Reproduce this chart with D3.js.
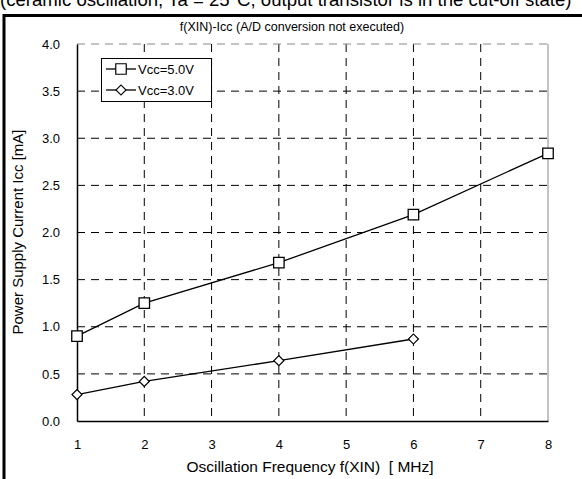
<!DOCTYPE html>
<html>
<head>
<script src="https://d3js.org/d3.v7.min.js"></script>
<style>
  body { margin: 0; background: #fff; }
  text { font-family: "Liberation Sans", Arial, sans-serif; fill: #000; }
</style>
</head>
<body>
<svg class="chart" width="582" height="479"></svg>
<script>
// data
const freqTicks = [1, 2, 3, 4, 5, 6, 7, 8];
const iccTicks = [0, 0.5, 1.0, 1.5, 2.0, 2.5, 3.0, 3.5, 4.0];
const freq5 = [1, 2, 4, 6, 8];
const icc5 = [0.90, 1.25, 1.68, 2.19, 2.84];
const freq3 = [1, 2, 4, 6];
const icc3 = [0.28, 0.42, 0.64, 0.87];
const seriesNames = ["Vcc=5.0V", "Vcc=3.0V"];

let pLeft = 77, pRight = 548, pTop = 44, pBottom = 421;
let svg = d3.select(".chart");

let xs = d3.scaleLinear().domain([1, 8]).range([pLeft, pRight]);
let ys = d3.scaleLinear().domain([0, 4]).range([pBottom, pTop]);

// header line, cut off at the top of the picture
svg.append("text").attr("x", 0).attr("y", 6)
  .style("font-size", "18.6px")
  .text("(ceramic oscillation, Ta = 25°C, output transistor is in the cut-off state)");

// frame
svg.append("line").attr("x1", 3).attr("x2", 582).attr("y1", 15.5).attr("y2", 15.5)
  .attr("stroke", "#000").attr("stroke-width", 3);
svg.append("line").attr("x1", 4).attr("x2", 4).attr("y1", 14).attr("y2", 479)
  .attr("stroke", "#000").attr("stroke-width", 3);

svg.append("text").attr("x", 292).attr("y", 31).attr("text-anchor", "middle")
  .style("font-size", "12.5px")
  .text("f(XIN)-Icc (A/D conversion not executed)");

// grid lines
svg.append("g").selectAll("line")
  .data(freqTicks.slice(1, -1))
  .join("line")
  .attr("x1", d => xs(d)).attr("x2", d => xs(d))
  .attr("y1", pTop).attr("y2", pBottom)
  .attr("stroke", "#000").attr("stroke-dasharray", "8,6");
svg.append("g").selectAll("line")
  .data(iccTicks.slice(1, -1))
  .join("line")
  .attr("x1", pLeft).attr("x2", pRight)
  .attr("y1", d => ys(d)).attr("y2", d => ys(d))
  .attr("stroke", "#000").attr("stroke-dasharray", "8,6");

// top and right edges (grey)
svg.append("line").attr("x1", pLeft).attr("x2", pRight).attr("y1", pTop).attr("y2", pTop)
  .attr("stroke", "#888").attr("stroke-dasharray", "8,6");
svg.append("line").attr("x1", pRight).attr("x2", pRight).attr("y1", pTop).attr("y2", pBottom)
  .attr("stroke", "#888");

// axes
let x_axis = d3.axisBottom(xs).tickValues(freqTicks).tickSize(0).tickPadding(19)
  .tickFormat(d3.format("d"));
let y_axis = d3.axisLeft(ys).tickValues(iccTicks).tickSize(0).tickPadding(17)
  .tickFormat(d3.format(".1f"));

let gx = svg.append("g").attr("transform", "translate(0," + pBottom + ")").call(x_axis);
let gy = svg.append("g").attr("transform", "translate(" + pLeft + ",0)").call(y_axis);
gx.select(".domain").attr("stroke", "#000").attr("stroke-width", 1.5);
gy.select(".domain").attr("stroke", "#000").attr("stroke-width", 1.5);
svg.selectAll(".tick text").style("font-size", "13px").style("font-family", "Liberation Sans, Arial, sans-serif");

// axis titles
svg.append("text").attr("x", 310).attr("y", 472).attr("text-anchor", "middle")
  .style("font-size", "15.5px")
  .text("Oscillation Frequency f(XIN)\u00a0\u00a0[ MHz]");
svg.append("text").attr("transform", "translate(23,232) rotate(-90)")
  .attr("text-anchor", "middle").style("font-size", "15px")
  .text("Power Supply Current Icc [mA]");

// lines
const line = d3.line().x(d => xs(d[0])).y(d => ys(d[1]));
let pts5 = freq5.map((f, i) => [f, icc5[i]]);
let pts3 = freq3.map((f, i) => [f, icc3[i]]);

svg.append("path").datum(pts5).attr("d", line)
  .attr("fill", "none").attr("stroke", "#000").attr("stroke-width", 1.3);
svg.append("path").datum(pts3).attr("d", line)
  .attr("fill", "none").attr("stroke", "#000").attr("stroke-width", 1.3);

const sq = d3.symbol().type(d3.symbolSquare).size(110);
const dia = d3.symbol().type(d3.symbolSquare).size(50); // rotated 45deg below

svg.append("g").selectAll("path").data(pts5).join("path")
  .attr("d", sq).attr("transform", d => "translate(" + xs(d[0]) + "," + ys(d[1]) + ")")
  .attr("fill", "#fff").attr("stroke", "#000").attr("stroke-width", 1.3);
svg.append("g").selectAll("path").data(pts3).join("path")
  .attr("d", dia).attr("transform", d => "translate(" + xs(d[0]) + "," + ys(d[1]) + ") rotate(45)")
  .attr("fill", "#fff").attr("stroke", "#000").attr("stroke-width", 1.2);

// legend
let lg = svg.append("g");
lg.append("rect").attr("x", 101.5).attr("y", 58.5).attr("width", 110).attr("height", 43)
  .attr("fill", "#fff").attr("stroke", "#000");
[0, 1].forEach(i => {
  let yy = 69 + i * 21;
  lg.append("line").attr("x1", 106).attr("x2", 136).attr("y1", yy).attr("y2", yy)
    .attr("stroke", "#000").attr("stroke-width", 1.3);
  lg.append("path").attr("d", i == 0 ? sq : dia)
    .attr("transform", "translate(121," + yy + ")" + (i == 1 ? " rotate(45)" : ""))
    .attr("fill", "#fff").attr("stroke", "#000").attr("stroke-width", 1.2);
  lg.append("text").attr("x", 138).attr("y", yy + 5).style("font-size", "13px")
    .text(seriesNames[i]);
});
</script>
</body>
</html>
